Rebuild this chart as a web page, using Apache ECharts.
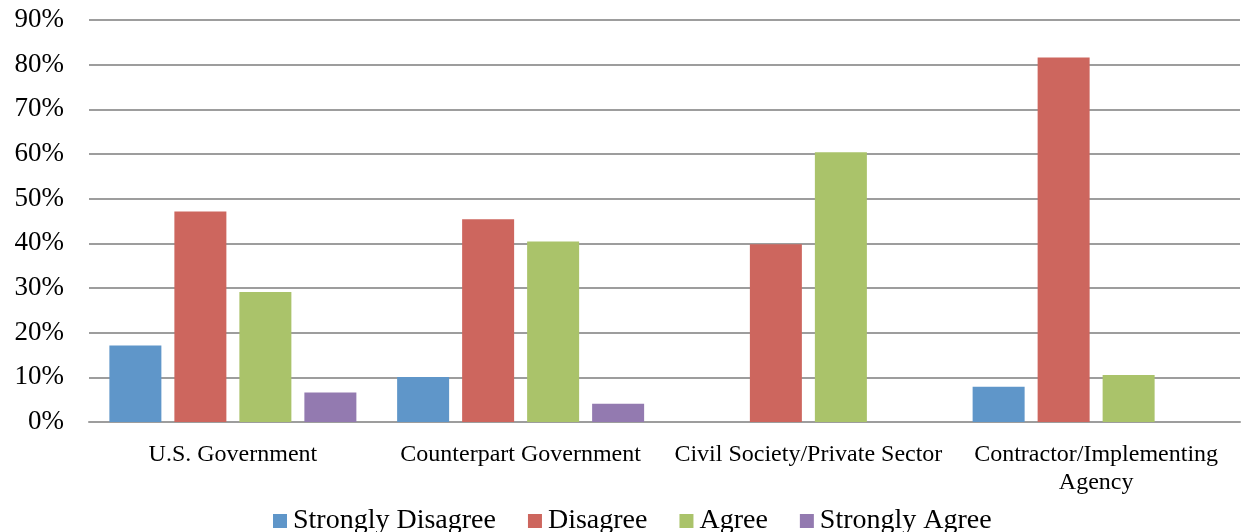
<!DOCTYPE html>
<html><head><meta charset="utf-8">
<script src="https://cdn.jsdelivr.net/npm/echarts@6/dist/echarts.min.js"></script>
<style>html,body{margin:0;padding:0;background:#fff}#c{width:1242px;height:532px}</style>
</head><body><div id="c"></div>
<script>
const categories = ['U.S. Government', 'Counterpart Government', 'Civil Society/Private Sector', 'Contractor/Implementing\nAgency'];
const seriesNames = ['Strongly Disagree', 'Disagree', 'Agree', 'Strongly Agree'];
const stronglyDisagree = [17.1, 10.1, 0, 7.9];
const disagree = [47.1, 45.4, 39.8, 81.6];
const agree = [29.1, 40.4, 60.4, 10.5];
const stronglyAgree = [6.6, 4.1, 0, 0];
const colors = ['#5F96C9', '#CD665E', '#AAC36A', '#937AB0'];
const values = [stronglyDisagree, disagree, agree, stronglyAgree];
const font = '"Liberation Serif", serif';

const chart = echarts.init(document.getElementById('c'));
chart.setOption({
  animation: false,
  grid: { left: 89, right: 2, top: 20, bottom: 110, containLabel: false },
  legend: {
    left: 268, top: 502, itemWidth: 14, itemHeight: 14, itemGap: 32,
    icon: 'rect',
    textStyle: { fontFamily: font, fontSize: 28, color: '#000', padding: [0,0,0,1] },
    data: seriesNames
  },
  xAxis: {
    type: 'category', data: categories,
    axisTick: { show: false },
    axisLine: { lineStyle: { color: '#9d9d9d', width: 2 } },
    axisLabel: { fontFamily: font, fontSize: 24, color: '#000', margin: 19, lineHeight: 28, interval: 0 }
  },
  yAxis: {
    type: 'value', min: 0, max: 90, interval: 10,
    axisLabel: { formatter: '{value}%', fontFamily: font, fontSize: 27, color: '#000', margin: 25 },
    axisLine: { show: false }, axisTick: { show: false },
    splitLine: { lineStyle: { color: '#9d9d9d', width: 2 } }
  },
  series: seriesNames.map((n, i) => ({
    name: n, type: 'bar', data: values[i], barWidth: 52, barGap: '25%',
    itemStyle: { color: colors[i] }
  }))
});
</script></body></html>
